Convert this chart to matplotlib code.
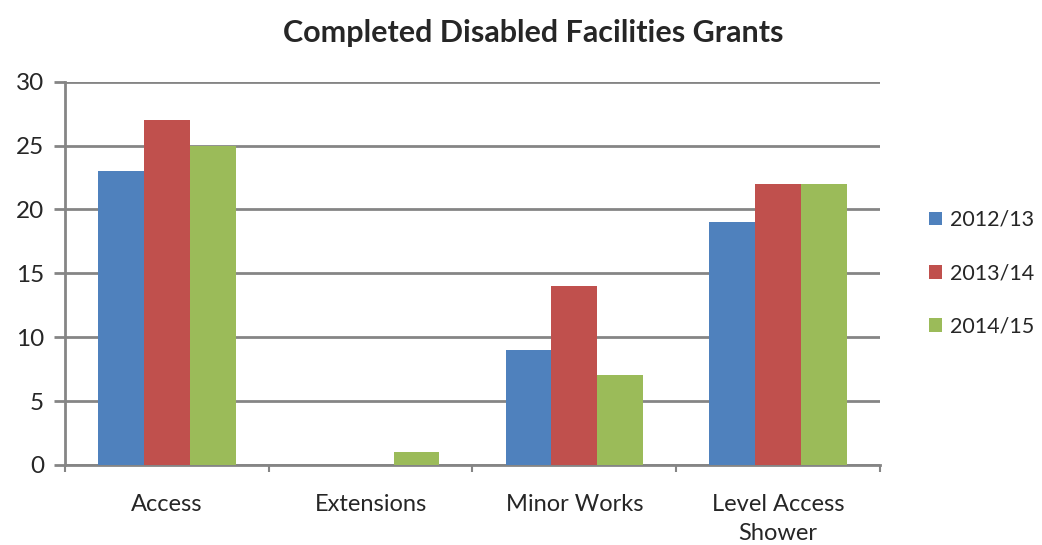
import numpy as np
import matplotlib.pyplot as plt
from matplotlib.ticker import FixedLocator

plt.rcParams['font.family'] = ['Lato', 'DejaVu Sans']

categories = ['Access', 'Extensions', 'Minor Works', 'Level Access\nShower']
series = ['2012/13', '2013/14', '2014/15']
v_2012 = [23, 0, 9, 19]
v_2013 = [27, 0, 14, 22]
v_2014 = [25, 1, 7, 22]
colors = ['#4F81BD', '#C0504D', '#9BBB59']
text_col = '#262626'

fig = plt.figure(figsize=(10.42, 5.45), dpi=100)
ax = fig.add_axes([0.0624, 0.147, 0.782, 0.703])

x = np.arange(len(categories))
w = 0.225
for i, (vals, lab, c) in enumerate(zip([v_2012, v_2013, v_2014], series, colors)):
    ax.bar(x + (i - 1) * w, vals, width=w, color=c, label=lab, zorder=3)

ax.set_xlim(-0.5, len(categories) - 0.5)
ax.set_ylim(0, 30)
ax.set_yticks(range(0, 31, 5))
ax.yaxis.grid(True, color='#858585', linewidth=2, zorder=0)
ax.tick_params(axis='y', length=8, width=2, color='#858585', labelsize=17.5,
               labelcolor=text_col, pad=7)

ax.set_xticks(x)
ax.set_xticklabels(categories, fontsize=17, color=text_col, linespacing=1.45)
ax.tick_params(axis='x', which='major', length=0, pad=21)
ax.xaxis.set_minor_locator(FixedLocator(np.arange(-0.5, len(categories), 1.0)))
ax.tick_params(axis='x', which='minor', length=5, width=1.5, color='#858585')

for s in ['top', 'right']:
    ax.spines[s].set_visible(False)
for s in ['left', 'bottom']:
    ax.spines[s].set_color('#858585')
    ax.spines[s].set_linewidth(2)

fig.suptitle('Completed Disabled Facilities Grants', x=0.512, y=0.965,
             fontsize=22, fontweight='bold', color=text_col)

leg = ax.legend(loc='center left', bbox_to_anchor=(1.05, 0.5), frameon=False,
                fontsize=15.5, handlelength=0.6, handleheight=0.6,
                handletextpad=0.35, labelspacing=1.55, borderaxespad=0)
for t in leg.get_texts():
    t.set_color(text_col)

fig.savefig('out.png', dpi=100)
